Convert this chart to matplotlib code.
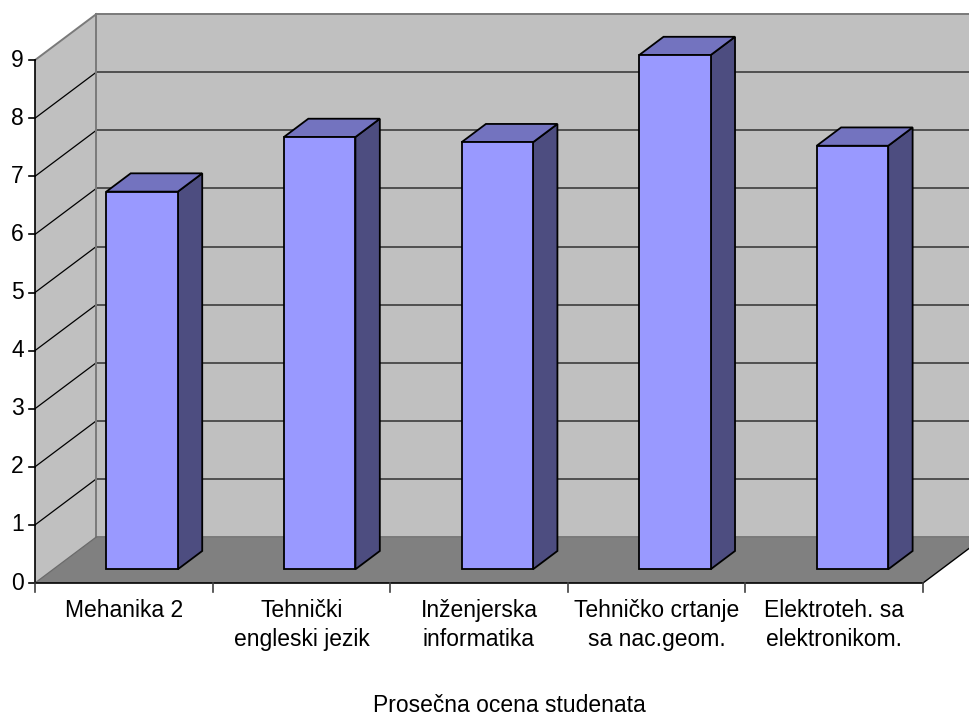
import matplotlib
matplotlib.use("Agg")
import matplotlib.pyplot as plt
from matplotlib.patches import Polygon

plt.rcParams['font.family'] = ['Liberation Sans', 'DejaVu Sans']

# Data
categories = [
    "Mehanika 2",
    "Tehnički\nengleski jezik",
    "Inženjerska\ninformatika",
    "Tehničko crtanje\nsa nac.geom.",
    "Elektroteh. sa\nelektronikom.",
]
values = [6.5, 7.44, 7.35, 8.85, 7.29]
y_ticks = list(range(0, 10))
x_title = "Prosečna ocena studenata"

# Pseudo-3D layout (data units: 1 x-unit = one category, 1 y-unit = one grade point)
W_PX, H_PX = 970, 716
PX_PER_CAT = 177.6
PX_PER_VAL = 58.1
ORIGIN_PX = (35, 583)
DEPTH_DX = 61.3 / PX_PER_CAT     # horizontal shift from front to back plane
DEPTH_DY = 46.0 / PX_PER_VAL     # vertical shift from front to back plane
BAR_W = 0.4026
BAR_D0, BAR_D1 = 0.298, 0.696
N = len(categories)
Y_MAX = 9

WALL = "#c0c0c0"
FLOOR = "#808080"
FRONT = "#9999ff"
TOP = "#7373bf"
SIDE = "#4d4d80"
FS = 16.5


def proj(x, v, d):
    return (x + d * DEPTH_DX, v + d * DEPTH_DY)


def px_x(p):
    return (p - ORIGIN_PX[0]) / PX_PER_CAT


def px_y(p):
    return (ORIGIN_PX[1] - p) / PX_PER_VAL


fig = plt.figure(figsize=(W_PX / 100, H_PX / 100), dpi=100)
ax = fig.add_axes([0, 0, 1, 1])
ax.set_xlim(px_x(0), px_x(W_PX))
ax.set_ylim(px_y(H_PX), px_y(0))
ax.axis("off")

x_right = N + 0.2  # walls run past the right edge of the figure

# Back wall
back = [proj(0, 0, 1), proj(x_right, 0, 1), proj(x_right, Y_MAX, 1), proj(0, Y_MAX, 1)]
ax.add_patch(Polygon(back, closed=True, facecolor=WALL, edgecolor="none", zorder=1))
# Left wall
left = [proj(0, 0, 0), proj(0, 0, 1), proj(0, Y_MAX, 1), proj(0, Y_MAX, 0)]
ax.add_patch(Polygon(left, closed=True, facecolor=WALL, edgecolor="none", zorder=1))
# Floor
floor = [proj(0, 0, 0), proj(N, 0, 0), proj(N, 0, 1), proj(0, 0, 1)]
ax.add_patch(Polygon(floor, closed=True, facecolor=FLOOR, edgecolor="none", zorder=2))

# Gridlines on back wall and left wall
for v in y_ticks[1:-1]:
    a, b = proj(0, v, 1), proj(x_right, v, 1)
    ax.plot([a[0], b[0]], [a[1], b[1]], color="#3c3c3c", lw=1.2, zorder=3)
for v in y_ticks[1:-1]:
    a, b = proj(0, v, 0), proj(0, v, 1)
    ax.plot([a[0], b[0]], [a[1], b[1]], color="black", lw=0.9, zorder=3)

# Wall outlines
for (p, q) in [((0, Y_MAX, 0), (0, Y_MAX, 1)),
               ((0, Y_MAX, 1), (x_right, Y_MAX, 1)),
               ((0, 0, 1), (0, Y_MAX, 1)),
               ((0, 0, 1), (x_right, 0, 1))]:
    a, b = proj(*p), proj(*q)
    ax.plot([a[0], b[0]], [a[1], b[1]], color="#7a7a7a", lw=1.4, zorder=3)
a, b = proj(N, 0, 0), proj(N, 0, 1)
ax.plot([a[0], b[0]], [a[1], b[1]], color="black", lw=1.0, zorder=3)
a, b = proj(0, 0, 0), proj(0, 0, 1)
ax.plot([a[0], b[0]], [a[1], b[1]], color="#6a6a6a", lw=0.9, zorder=3)

# Bars
for i, v in enumerate(values):
    xl = i + 0.5 - BAR_W / 2
    xr = i + 0.5 + BAR_W / 2
    side = [proj(xr, 0, BAR_D0), proj(xr, 0, BAR_D1), proj(xr, v, BAR_D1), proj(xr, v, BAR_D0)]
    top = [proj(xl, v, BAR_D0), proj(xr, v, BAR_D0), proj(xr, v, BAR_D1), proj(xl, v, BAR_D1)]
    front = [proj(xl, 0, BAR_D0), proj(xr, 0, BAR_D0), proj(xr, v, BAR_D0), proj(xl, v, BAR_D0)]
    for poly, col in [(side, SIDE), (top, TOP), (front, FRONT)]:
        ax.add_patch(Polygon(poly, closed=True, facecolor=col, edgecolor="black",
                             lw=1.3, joinstyle="miter", zorder=5))

# Axes lines and ticks
ax.plot([0, 0], [0, Y_MAX], color="black", lw=1.2, zorder=6)
ax.plot([0, N], [0, 0], color="black", lw=1.2, zorder=6)
tick_len_x = 6 / PX_PER_CAT
tick_len_y = 9 / PX_PER_VAL
for v in y_ticks:
    ax.plot([-tick_len_x, 0], [v, v], color="black", lw=1.2, zorder=6)
    ax.text(-tick_len_x - 5 / PX_PER_CAT, v, str(v), ha="right", va="center",
            fontsize=FS, color="black")
for i in range(N + 1):
    ax.plot([i, i], [0, -tick_len_y], color="#404040", lw=1.2, zorder=6)

for i, lab in enumerate(categories):
    ax.text(i + 0.5, px_y(599), lab, ha="center", va="top", fontsize=FS,
            linespacing=1.33, color="black")

# Axis title centred over the full plot area including the depth offset
ax.text(px_x(509), px_y(706), x_title, ha="center", va="center", fontsize=FS, color="black")

fig.savefig("out.png", dpi=100)
